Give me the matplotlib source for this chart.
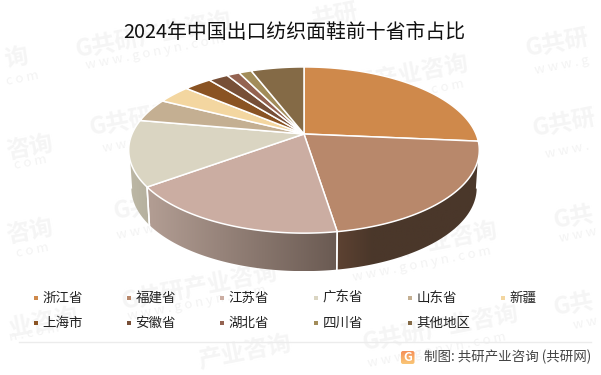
from __future__ import annotations

import matplotlib
matplotlib.use("Agg")
import matplotlib.pyplot as plt
import numpy as np
from matplotlib.colors import to_rgb
from matplotlib.patches import FancyBboxPatch, Polygon, Rectangle

plt.rcParams["font.family"] = ["Noto Sans CJK SC", "DejaVu Sans"]

TITLE = "2024年中国出口纺织面鞋前十省市占比"
SOURCE = "制图: 共研产业咨询 (共研网)"

provinces = ["浙江省", "福建省", "江苏省", "广东省", "山东省", "新疆",
             "上海市", "安徽省", "湖北省", "四川省", "其他地区"]
shares = [26.4, 21.1, 17.5, 12.8, 4.6, 3.65, 3.05, 2.2, 1.4, 1.4, 5.9]
colors = ["#CF894B", "#B8886B", "#CBADA2", "#DAD5C2", "#C4AF92", "#F3D6A0",
          "#8A5323", "#774F37", "#946351", "#A28C5A", "#846A46"]
# left colour, right colour, part of the width the blend takes
wall_colors = {1: ("#5D4232", "#4A372A", 0.25), 2: ("#B39E94", "#6A5A52", 1.0), 3: ("#BDB8A6", "#B5B09E", 1.0)}

CX, CY = 304, 134
RX, HY, K = 172, 80, 0.193
DEPTH = 38
WALL_START, WALL_END = 101, 259

FULL = "G共研产业咨询"
WWW = "w w w . g o n y n . c o m"
stamps = [(FULL, 154, 35), ("询", 16, 58), (FULL, 168, 113), ("咨询", 30, 148), (FULL, 391, 78),
          (FULL, 398, 163), ("G共研", 557, 44), ("G共研", 564, 124), ("共研", 335, 16),
          ("咨询", 30, 232), (FULL, 192, 197), (FULL, 420, 245), ("G共", 574, 218),
          (FULL, 200, 287), ("业咨询", 44, 322), (FULL, 441, 328), ("G共", 574, 305),
          ("产业咨询", 245, 353)]
stamp_urls = [("c o m", 22, 78), (WWW, 155, 52), ("c o m", 30, 162), (WWW, 172, 135), (WWW, 395, 97),
              (WWW, 400, 180), ("w w w . g", 562, 65), ("w w w .", 567, 150), ("c o m", 32, 250),
              (WWW, 186, 222), ("n . c o m", 34, 333), (WWW, 197, 303), (WWW, 422, 264),
              ("w w w", 578, 235), ("w w", 585, 323), (WWW, 437, 350)]


def rim(theta_deg, drop=0.0):
    # tilted circle seen in perspective, theta runs clockwise from the top
    t = np.radians(theta_deg)
    u, v = np.sin(t), -np.cos(t)
    w = 1 - K * v
    shrink = 1 - 0.015 * (drop > 0)
    return CX + RX * u / w * shrink, CY + HY * v / w + drop


def draw_watermarks(ax):
    for label, x, y in stamps:
        ax.text(x, y, label, fontsize=17, fontweight="bold", color="#F5F5F5",
                rotation=11, ha="center", va="center", zorder=1)
    for label, x, y in stamp_urls:
        ax.text(x, y, label, fontsize=9.5, color="#F3F3F3",
                rotation=11, ha="center", va="center", zorder=1)


def gradient_fill(ax, poly, extent, left, right, frac=1.0, vertical=False, zorder=3):
    c0, c1 = np.array(to_rgb(left)), np.array(to_rgb(right))
    mix = np.clip(np.linspace(0, 1, 128) / frac, 0, 1)
    mix = mix[:, None, None] if vertical else mix[None, :, None]
    img = ax.imshow(c1 * mix + c0 * (1 - mix), aspect="auto", zorder=zorder, extent=extent)
    img.set_clip_path(poly)


def draw_pie(ax):
    edges = np.cumsum([0] + shares) / sum(shares) * 360

    for i, (left, right, frac) in wall_colors.items():
        a, b = max(edges[i], WALL_START), min(edges[i + 1], WALL_END)
        th = np.linspace(a, b, 80)
        x0, y0 = rim(th)
        x1, y1 = rim(th, DEPTH)
        pts = np.column_stack([np.r_[x0, x1[::-1]], np.r_[y0, y1[::-1]]])
        poly = Polygon(pts, closed=True, fc="none", ec="none", zorder=3)
        ax.add_patch(poly)
        # gradient runs left to right on screen
        extent = (pts[:, 0].min(), pts[:, 0].max(), pts[:, 1].max(), pts[:, 1].min())
        gradient_fill(ax, poly, extent, left, right, frac)
        ax.plot(pts[[0, -1], 0], pts[[0, -1], 1], color="white", lw=1.1, zorder=4)
        ax.plot(pts[[79, 80], 0], pts[[79, 80], 1], color="white", lw=1.1, zorder=4)

    for i, color in enumerate(colors):
        th = np.linspace(edges[i], edges[i + 1], max(int(edges[i + 1] - edges[i]) * 2, 4))
        x, y = rim(th)
        pts = np.column_stack([np.r_[CX, x], np.r_[CY, y]])
        ax.add_patch(Polygon(pts, closed=True, fc=color, ec="white", lw=1.1,
                             joinstyle="round", zorder=5))


def draw_legend(ax):
    xs = [36, 129, 222, 316, 410, 503]
    for i, (name, color) in enumerate(zip(provinces, colors)):
        x, y = xs[i % 6], 298 + 24.5 * (i // 6)
        ax.add_patch(Rectangle((x - 2, y - 2), 4, 4, fc=color, ec="none", zorder=6))
        ax.text(x + 6.5, y, name, fontsize=9.7, color="#222222", va="center", zorder=6)


def draw_footer(ax):
    ax.plot([19, 591], [342, 342], color="#ECECEC", lw=1, zorder=2)
    box = FancyBboxPatch((401, 351), 13.5, 13, boxstyle="round,pad=0,rounding_size=2",
                         fc="none", ec="none", zorder=6)
    ax.add_patch(box)
    gradient_fill(ax, box, (401, 414.5, 364, 351), "#F58F57", "#FAC777", vertical=True, zorder=6)
    ax.text(407.7, 357.3, "G", fontsize=9, fontweight="bold", color="white",
            ha="center", va="center", zorder=7)
    ax.text(424, 357, SOURCE, fontsize=9.7, color="#444444", va="center", zorder=6)


def main() -> None:
    fig = plt.figure(figsize=(6.01, 3.75), dpi=100, facecolor="white")
    ax = fig.add_axes([0, 0, 1, 1])
    draw_watermarks(ax)
    draw_pie(ax)
    draw_legend(ax)
    draw_footer(ax)
    ax.text(294.5, 33, TITLE, fontsize=14.3, color="#111111", ha="center", va="center", zorder=6)
    ax.set_xlim(0, 601)
    ax.set_ylim(375, 0)
    ax.axis("off")
    fig.savefig("out.png", dpi=100)
    plt.close(fig)


if __name__ == "__main__":
    main()
